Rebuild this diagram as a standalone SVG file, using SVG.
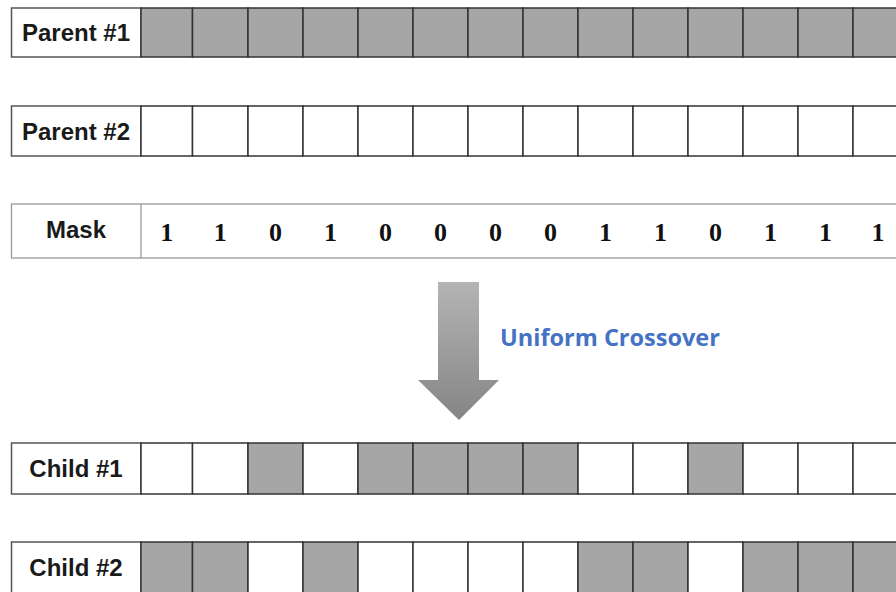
<svg xmlns="http://www.w3.org/2000/svg" width="896" height="592" viewBox="0 0 896 592">
<style>
.lbl{fill:#fff;stroke:#555;stroke-width:1.5}
.g{fill:#a6a6a6;stroke:#333;stroke-width:1.5}
.w{fill:#fff;stroke:#333;stroke-width:1.5}
.t{font-family:"Liberation Sans",Arial,sans-serif;font-weight:bold;font-size:24px;fill:#1a1a1a;text-anchor:middle}
.d{font-family:"Liberation Serif","Times New Roman",serif;font-weight:bold;font-size:26px;fill:#111;text-anchor:middle}
</style>
<defs>
<linearGradient id="ag" x1="0" y1="0" x2="0" y2="1">
<stop offset="0" stop-color="#b4b4b4"/>
<stop offset="1" stop-color="#858585"/>
</linearGradient>
</defs>
<rect width="896" height="592" fill="#fff"/>
<g id="parent1">
<rect class="lbl" x="11.5" y="8" width="129.5" height="49"/>
<rect class="g" x="141" y="8" width="51.5" height="49"/>
<rect class="g" x="192.5" y="8" width="55.5" height="49"/>
<rect class="g" x="248" y="8" width="55" height="49"/>
<rect class="g" x="303" y="8" width="55" height="49"/>
<rect class="g" x="358" y="8" width="55" height="49"/>
<rect class="g" x="413" y="8" width="55" height="49"/>
<rect class="g" x="468" y="8" width="55" height="49"/>
<rect class="g" x="523" y="8" width="55" height="49"/>
<rect class="g" x="578" y="8" width="55" height="49"/>
<rect class="g" x="633" y="8" width="55" height="49"/>
<rect class="g" x="688" y="8" width="55" height="49"/>
<rect class="g" x="743" y="8" width="55" height="49"/>
<rect class="g" x="798" y="8" width="55" height="49"/>
<rect class="g" x="853" y="8" width="55" height="49"/>
<text class="t" x="76" y="41">Parent #1</text>
</g>
<g id="parent2">
<rect class="lbl" x="11.5" y="106" width="129.5" height="50"/>
<rect class="w" x="141" y="106" width="51.5" height="50"/>
<rect class="w" x="192.5" y="106" width="55.5" height="50"/>
<rect class="w" x="248" y="106" width="55" height="50"/>
<rect class="w" x="303" y="106" width="55" height="50"/>
<rect class="w" x="358" y="106" width="55" height="50"/>
<rect class="w" x="413" y="106" width="55" height="50"/>
<rect class="w" x="468" y="106" width="55" height="50"/>
<rect class="w" x="523" y="106" width="55" height="50"/>
<rect class="w" x="578" y="106" width="55" height="50"/>
<rect class="w" x="633" y="106" width="55" height="50"/>
<rect class="w" x="688" y="106" width="55" height="50"/>
<rect class="w" x="743" y="106" width="55" height="50"/>
<rect class="w" x="798" y="106" width="55" height="50"/>
<rect class="w" x="853" y="106" width="55" height="50"/>
<text class="t" x="76" y="140">Parent #2</text>
</g>
<g id="mask">
<rect x="11.5" y="204" width="900" height="54" fill="#fff" stroke="#999" stroke-width="1.3"/>
<line x1="141" y1="204" x2="141" y2="258" stroke="#999" stroke-width="1.3"/>
<text class="t" x="76" y="238">Mask</text>
<text class="d" x="166.7" y="241">1</text>
<text class="d" x="220.2" y="241">1</text>
<text class="d" x="275.5" y="241">0</text>
<text class="d" x="330.5" y="241">1</text>
<text class="d" x="385.5" y="241">0</text>
<text class="d" x="440.5" y="241">0</text>
<text class="d" x="495.5" y="241">0</text>
<text class="d" x="550.5" y="241">0</text>
<text class="d" x="605.5" y="241">1</text>
<text class="d" x="660.5" y="241">1</text>
<text class="d" x="715.5" y="241">0</text>
<text class="d" x="770.5" y="241">1</text>
<text class="d" x="825.5" y="241">1</text>
<text class="d" x="878" y="241">1</text>
</g>
<g id="connectors">
<polygon points="438,282 479,282 479,380 499,380 459,420 418,380 438,380" fill="url(#ag)"/>
</g>
<g id="label-uniform">
<text x="500" y="346" font-family="'Open Sans','Noto Sans',sans-serif" font-weight="bold" font-size="23.5" fill="#4472c4">Uniform Crossover</text>
</g>
<g id="child1">
<rect class="lbl" x="11.5" y="443" width="129.5" height="51"/>
<rect class="w" x="141" y="443" width="51.5" height="51"/>
<rect class="w" x="192.5" y="443" width="55.5" height="51"/>
<rect class="g" x="248" y="443" width="55" height="51"/>
<rect class="w" x="303" y="443" width="55" height="51"/>
<rect class="g" x="358" y="443" width="55" height="51"/>
<rect class="g" x="413" y="443" width="55" height="51"/>
<rect class="g" x="468" y="443" width="55" height="51"/>
<rect class="g" x="523" y="443" width="55" height="51"/>
<rect class="w" x="578" y="443" width="55" height="51"/>
<rect class="w" x="633" y="443" width="55" height="51"/>
<rect class="g" x="688" y="443" width="55" height="51"/>
<rect class="w" x="743" y="443" width="55" height="51"/>
<rect class="w" x="798" y="443" width="55" height="51"/>
<rect class="w" x="853" y="443" width="55" height="51"/>
<text class="t" x="76" y="477">Child #1</text>
</g>
<g id="child2">
<rect class="lbl" x="11.5" y="542" width="129.5" height="60"/>
<rect class="g" x="141" y="542" width="51.5" height="60"/>
<rect class="g" x="192.5" y="542" width="55.5" height="60"/>
<rect class="w" x="248" y="542" width="55" height="60"/>
<rect class="g" x="303" y="542" width="55" height="60"/>
<rect class="w" x="358" y="542" width="55" height="60"/>
<rect class="w" x="413" y="542" width="55" height="60"/>
<rect class="w" x="468" y="542" width="55" height="60"/>
<rect class="w" x="523" y="542" width="55" height="60"/>
<rect class="g" x="578" y="542" width="55" height="60"/>
<rect class="g" x="633" y="542" width="55" height="60"/>
<rect class="w" x="688" y="542" width="55" height="60"/>
<rect class="g" x="743" y="542" width="55" height="60"/>
<rect class="g" x="798" y="542" width="55" height="60"/>
<rect class="g" x="853" y="542" width="55" height="60"/>
<text class="t" x="76" y="576">Child #2</text>
</g>
</svg>
